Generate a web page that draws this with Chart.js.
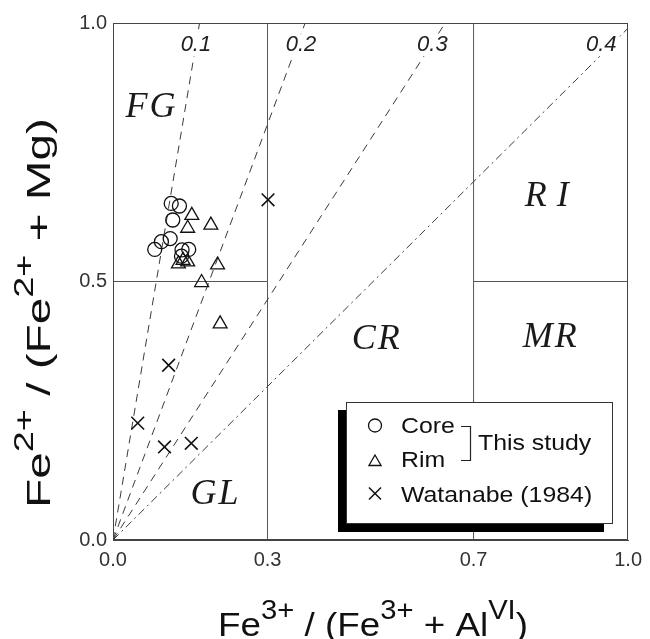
<!DOCTYPE html>
<html>
<head>
<meta charset="utf-8">
<script src="https://cdn.jsdelivr.net/npm/chart.js@4.4.1/dist/chart.umd.min.js"></script>
<style>
html,body{margin:0;padding:0;background:#fff;}
#wrap{width:650px;height:639px;position:relative;}
</style>
</head>
<body>
<div id="wrap"><canvas id="c" width="650" height="639"></canvas></div>
<script>
// ---------- data ----------
const coreX = [0.113, 0.129, 0.116, 0.111, 0.094, 0.081, 0.134, 0.147, 0.133];
const coreY = [0.651, 0.646, 0.619, 0.583, 0.577, 0.562, 0.561, 0.562, 0.549];
const rimX  = [0.153, 0.145, 0.190, 0.127, 0.145, 0.203, 0.172, 0.208, 0.136];
const rimY  = [0.628, 0.603, 0.609, 0.534, 0.538, 0.532, 0.498, 0.418, 0.541];
const watX  = [0.108, 0.048, 0.100, 0.152, 0.301];
const watY  = [0.338, 0.226, 0.180, 0.187, 0.658];

const xTicks = [0.0, 0.3, 0.7, 1.0];
const yTicks = [0.0, 0.5, 1.0];

// ratio lines from the origin, ending on the frame
const ratioNames = ['0.1', '0.2', '0.3', '0.4'];
const ratioEndX  = [0.168, 0.373, 0.645, 1.0];
const ratioEndY  = [1.0, 1.0, 1.0, 0.99];

// field boundaries
const boundaryX = [0.3, 0.7];
const boundaryY = 0.5;

// field names
const regionNames = ['FG', 'RI', 'CR', 'MR', 'GL'];

// ---------- annotation placement (layout, not data) ----------
const regionPos = [[0.073, 0.836], [0.842, 0.665], [0.510, 0.388], [0.848, 0.391], [0.197, 0.087]];
const regionSpacing = [2, 10, 2, 2, 2];
const ratioLabelPos = [[0.161, 0.957], [0.365, 0.957], [0.620, 0.957], [0.948, 0.957]];

const SANS = '"Liberation Sans", Arial, Helvetica, sans-serif';
const SERIF = '"Liberation Serif", "Times New Roman", serif';

function pts(xs, ys) { return xs.map((x, i) => ({x: x, y: ys[i]})); }

const datasets = [];
datasets.push({label: 'Core', data: pts(coreX, coreY), pointStyle: 'circle', pointRadius: 7,
  borderColor: '#111', backgroundColor: 'rgba(0,0,0,0)', pointBorderWidth: 1.3, showLine: false, order: 1});
datasets.push({label: 'Rim', data: pts(rimX, rimY), pointStyle: 'triangle', pointRadius: 8,
  borderColor: '#111', backgroundColor: 'rgba(0,0,0,0)', pointBorderWidth: 1.3, showLine: false, order: 1});
datasets.push({label: 'Watanabe (1984)', data: pts(watX, watY), pointStyle: 'crossRot', pointRadius: 9,
  borderColor: '#111', backgroundColor: '#111', pointBorderWidth: 1.6, showLine: false, order: 1});

ratioNames.forEach((n, i) => {
  datasets.push({label: 'ratio ' + n, data: [{x: 0, y: 0}, {x: ratioEndX[i], y: ratioEndY[i]}],
    showLine: true, pointRadius: 0, borderColor: '#3a3a3a', borderWidth: 1,
    borderDash: i === 3 ? [8, 4, 2, 4] : [8, 6], order: 5});
});
boundaryX.forEach(bx => {
  datasets.push({label: 'b' + bx, data: [{x: bx, y: 0}, {x: bx, y: 1}], showLine: true, pointRadius: 0,
    borderColor: '#555', borderWidth: 1, order: 6});
});
datasets.push({label: 'h1', data: [{x: 0, y: boundaryY}, {x: boundaryX[0], y: boundaryY}], showLine: true,
  pointRadius: 0, borderColor: '#555', borderWidth: 1, order: 6});
datasets.push({label: 'h2', data: [{x: boundaryX[1], y: boundaryY}, {x: 1, y: boundaryY}], showLine: true,
  pointRadius: 0, borderColor: '#555', borderWidth: 1, order: 6});

function richText(ctx, parts, cx, cy, angle, target, baseFont, supFont, raise) {
  ctx.save();
  const widths = parts.map(p => { ctx.font = p.s ? supFont : baseFont; return ctx.measureText(p.t).width; });
  const total = widths.reduce((a, b) => a + b, 0);
  ctx.translate(cx, cy);
  ctx.rotate(angle);
  ctx.scale(target / total, 1);
  ctx.textAlign = 'left';
  ctx.textBaseline = 'alphabetic';
  ctx.fillStyle = '#111';
  let x = -total / 2;
  parts.forEach((p, i) => {
    ctx.font = p.s ? supFont : baseFont;
    ctx.fillText(p.t, x, p.s ? -raise : 0);
    x += widths[i];
  });
  ctx.restore();
}

function stretchText(ctx, text, x, y, sx) {
  ctx.save();
  ctx.translate(x, y);
  ctx.scale(sx, 1);
  ctx.fillText(text, 0, 0);
  ctx.restore();
}

function marker(ctx, style, x, y, r) {
  ctx.beginPath();
  if (style === 'circle') {
    ctx.arc(x, y, r, 0, Math.PI * 2);
  } else if (style === 'triangle') {
    for (let k = 0; k < 3; k++) {
      const a = k * 2 * Math.PI / 3;
      const px = x + Math.sin(a) * r, py = y - Math.cos(a) * r;
      if (k === 0) ctx.moveTo(px, py); else ctx.lineTo(px, py);
    }
    ctx.closePath();
  } else {
    const d = r * Math.SQRT1_2;
    ctx.moveTo(x - d, y - d); ctx.lineTo(x + d, y + d);
    ctx.moveTo(x + d, y - d); ctx.lineTo(x - d, y + d);
  }
  ctx.stroke();
}

const decor = {
  id: 'decor',
  afterDatasetsDraw(chart) {
    const ctx = chart.ctx, a = chart.chartArea;
    const xs = chart.scales.x, ys = chart.scales.y;
    ctx.save();
    // frame
    ctx.strokeStyle = '#444';
    ctx.lineWidth = 1;
    ctx.strokeRect(Math.round(a.left) + 0.5, Math.round(a.top) + 0.5,
      Math.round(a.right - a.left) - 1, Math.round(a.bottom - a.top) - 1);

    // ratio labels with white backing
    ctx.font = 'italic 22px ' + SANS;
    ctx.textAlign = 'center';
    ctx.textBaseline = 'middle';
    ratioNames.forEach((n, i) => {
      const px = xs.getPixelForValue(ratioLabelPos[i][0]);
      const py = ys.getPixelForValue(ratioLabelPos[i][1]);
      const w = ctx.measureText(n).width;
      ctx.fillStyle = '#fff';
      ctx.fillRect(px - w / 2 - 3, py - 11, w + 6, 22);
      ctx.fillStyle = '#222';
      ctx.fillText(n, px, py);
    });

    // region names
    ctx.font = 'italic 36px ' + SERIF;
    ctx.fillStyle = '#1a1a1a';
    regionNames.forEach((n, i) => {
      ctx.letterSpacing = regionSpacing[i] + 'px';
      const px = xs.getPixelForValue(regionPos[i][0]) + regionSpacing[i] / 2;
      const py = ys.getPixelForValue(regionPos[i][1]);
      ctx.fillText(n, px, py);
    });
    ctx.letterSpacing = '0px';

    // legend
    ctx.fillStyle = '#000';
    ctx.fillRect(338, 410, 266, 122);
    ctx.fillStyle = '#fff';
    ctx.fillRect(346, 402, 266, 121);
    ctx.strokeStyle = '#333';
    ctx.lineWidth = 1;
    ctx.strokeRect(346.5, 402.5, 266, 121);

    ctx.strokeStyle = '#111';
    ctx.lineWidth = 1.3;
    marker(ctx, 'circle', 375, 425.5, 6.5);
    marker(ctx, 'triangle', 375, 462, 7);
    ctx.lineWidth = 1.5;
    marker(ctx, 'cross', 375, 493.5, 8.5);

    ctx.fillStyle = '#111';
    ctx.font = '22px ' + SANS;
    ctx.textAlign = 'left';
    ctx.textBaseline = 'alphabetic';
    stretchText(ctx, datasets[0].label, 401, 433, 1.13);
    stretchText(ctx, datasets[1].label, 401, 467, 1.13);
    stretchText(ctx, datasets[2].label, 401, 501.5, 1.13);
    stretchText(ctx, 'This study', 478, 450, 1.13);

    ctx.strokeStyle = '#222';
    ctx.lineWidth = 1.2;
    ctx.beginPath();
    ctx.moveTo(461, 426.5); ctx.lineTo(470.5, 426.5); ctx.lineTo(470.5, 460.5); ctx.lineTo(461, 460.5);
    ctx.stroke();

    // axis titles
    richText(ctx, [{t: 'Fe'}, {t: '3+', s: 1}, {t: ' / (Fe'}, {t: '3+', s: 1}, {t: ' + Al'}, {t: 'VI', s: 1}, {t: ')'}],
      373, 636, 0, 310, '34px ' + SANS, '27px ' + SANS, 17);
    richText(ctx, [{t: 'Fe'}, {t: '2+', s: 1}, {t: ' / (Fe'}, {t: '2+', s: 1}, {t: ' + Mg)'}],
      50, 313, -Math.PI / 2, 390, '34px ' + SANS, '27px ' + SANS, 17);
    ctx.restore();
  }
};

new Chart(document.getElementById('c'), {
  type: 'scatter',
  data: {datasets: datasets},
  options: {
    responsive: false,
    animation: false,
    events: [],
    layout: {padding: {top: 23, right: 19, left: 0, bottom: 0}},
    plugins: {legend: {display: false}, tooltip: {enabled: false}},
    scales: {
      x: {
        type: 'linear', min: 0, max: 1,
        afterBuildTicks: s => { s.ticks = xTicks.map(v => ({value: v})); },
        afterFit: s => { s.height = 99; },
        ticks: {callback: v => Number(v).toFixed(1), font: {family: SANS, size: 20}, color: '#333',
          padding: 8, autoSkip: false, maxRotation: 0},
        grid: {display: false, drawTicks: false},
        border: {display: true, color: '#444', width: 1}
      },
      y: {
        type: 'linear', min: 0, max: 1,
        afterBuildTicks: s => { s.ticks = yTicks.map(v => ({value: v})); },
        afterFit: s => { s.width = 113; },
        ticks: {callback: v => Number(v).toFixed(1), font: {family: SANS, size: 20}, color: '#333',
          padding: 6, autoSkip: false},
        grid: {display: false, drawTicks: false},
        border: {display: true, color: '#444', width: 1}
      }
    }
  },
  plugins: [decor]
});
</script>
</body>
</html>
